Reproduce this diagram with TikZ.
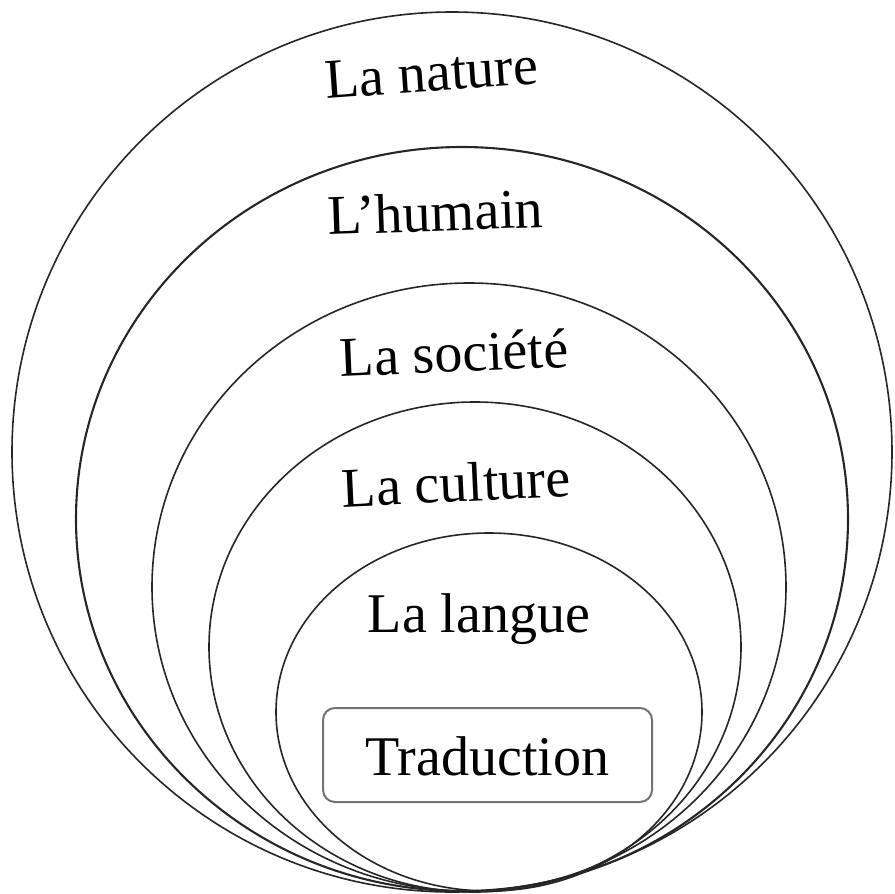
\documentclass[tikz,border=0pt]{standalone}
\usepackage{fontspec}
\setmainfont{Liberation Serif}
\usepackage{tikz}
\usetikzlibrary{positioning}

\begin{document}
\begin{tikzpicture}[x=1pt,y=-1pt,
    ring/.style={draw=black!85,line width=1.6pt},
    lbl/.style={font=\fontsize{56}{60}\selectfont,anchor=base,inner sep=0pt},
    trbox/.style={draw=black!55,line width=2pt,rounded corners=12pt,
      minimum width=329pt,minimum height=94pt,inner sep=0pt}]
      \useasboundingbox (0,0) rectangle (895,894);
      % nested rings, outer to inner
      \draw[ring] (452,452) ellipse [x radius=440,y radius=440];
      \draw[ring,line width=2.1pt] (462,519) ellipse [x radius=386,y radius=372];
      \draw[ring] (469,587) ellipse [x radius=317,y radius=304];
      \draw[ring] (475,647) ellipse [x radius=266,y radius=245];
      \draw[ring] (489,712) ellipse [x radius=213,y radius=179];
      % labels
      \node[lbl,rotate=4] (nature) at (433,91) {La nature};
      \node[lbl,rotate=2] (humain) at (436,231) {L’humain};
      \node[lbl,rotate=2.5] (societe) at (455,372) {La société};
      \node[lbl,rotate=2.7] (culture) at (457,502) {La culture};
      \node[lbl] (langue) at (479,632) {La langue};
      \node[trbox] (trad) at (487.5,755) {};
      \node[lbl] (tradtxt) at (487.5,775) {Traduction};
\end{tikzpicture}
\end{document}
